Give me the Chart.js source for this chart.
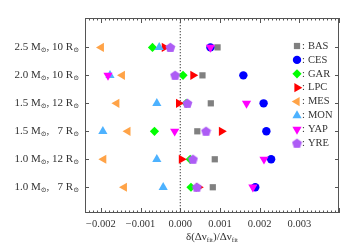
<!DOCTYPE html>
<html>
<head>
<meta charset="utf-8">
<script src="https://cdn.jsdelivr.net/npm/chart.js@4/dist/chart.umd.min.js"></script>
<style>html,body{margin:0;padding:0;background:#fff}</style>
</head>
<body>
<canvas id="chart" width="350" height="250"></canvas>
<script>
// models, top row first
var masses = ['2.5', '2.0', '1.5', '1.5', '1.0', '1.0'];
var radii = ['10', '10', '12', '7', '12', '7'];
var xTicks = [-0.002, -0.001, 0, 0.001, 0.002, 0.003];

var methods = ['BAS', 'CES', 'GAR', 'LPC', 'MES', 'MON', 'YAP', 'YRE'];
var bas = [0.00094, 0.00056, 0.00077, 0.00043, 0.00087, 0.00082];
var ces = [0.00076, 0.00159, 0.00210, 0.00217, 0.00229, 0.00189];
var gar = [-0.00070, 0.00007, 0.00015, -0.00065, 0.00025, 0.00027];
var lpc = [-0.00040, 0.00032, -0.00004, 0.00104, 0.00003, 0.00046];
var mes = [-0.00199, -0.00146, -0.00160, -0.00132, -0.00193, -0.00141];
var mon = [-0.00053, -0.00177, -0.00059, -0.00195, -0.00059, -0.00043];
var yap = [0.00076, -0.00182, 0.00167, -0.00014, 0.00211, 0.00183];
var yre = [-0.00025, -0.00013, 0.00018, 0.00065, 0.00032, 0.00042];
var series = [bas, ces, gar, lpc, mes, mon, yap, yre];

var colors = ['#808080', '#0000ff', '#00ff00', '#ff0000', '#ffa347', '#4db2ff', '#ff00ff', '#ad5cf5'];

// pentagon marker for YRE
var penta = document.createElement('canvas');
penta.width = 11; penta.height = 11;
(function() {
  var c = penta.getContext('2d');
  c.fillStyle = colors[7];
  c.beginPath();
  for (var k = 0; k < 5; k++) {
    var a = -Math.PI / 2 + k * 2 * Math.PI / 5;
    var px = 5.5 + 5.2 * Math.cos(a), py = 5.9 + 5.2 * Math.sin(a);
    if (k == 0) c.moveTo(px, py); else c.lineTo(px, py);
  }
  c.closePath();
  c.fill();
})();

var styles = ['rect', 'circle', 'rectRot', 'triangle', 'triangle', 'triangle', 'triangle', penta];
var rots = [0, 0, 0, 90, -90, 0, 180, 0];
var sizes = [4.4, 4.2, 4.6, 5.3, 5.3, 5.3, 5.3, 5];

var datasets = methods.map(function(m, i) {
  return {
    type: 'scatter',
    label: m,
    data: series[i].map(function(v, r) { return {x: v, y: 6 - r}; }),
    pointStyle: styles[i],
    rotation: rots[i],
    pointRadius: sizes[i],
    pointHoverRadius: sizes[i],
    backgroundColor: colors[i],
    borderColor: colors[i],
    borderWidth: 0,
    order: -i
  };
});

datasets.push({
  type: 'line',
  label: 'zero',
  data: [{x: 0, y: 0}, {x: 0, y: 8}],
  borderColor: '#000',
  borderWidth: 1,
  borderDash: [1, 2],
  pointRadius: 0,
  order: 10
});

var textColor = '#333';
var serif = '"Liberation Serif", "DejaVu Serif", serif';

function drawParts(ctx, parts, x, y, align) {
  // parts: [text, isSub]
  var w = 0;
  parts.forEach(function(p) {
    ctx.font = (p[1] ? '7px ' : '11px ') + serif;
    w += ctx.measureText(p[0]).width;
  });
  var cx = align == 'right' ? x - w : (align == 'center' ? x - w / 2 : x);
  ctx.textAlign = 'left';
  ctx.textBaseline = 'middle';
  parts.forEach(function(p) {
    ctx.font = (p[1] ? '7px ' : '11px ') + serif;
    ctx.fillText(p[0], cx, p[1] ? y + 3 : y);
    cx += ctx.measureText(p[0]).width;
  });
}

var framePlugin = {
  id: 'frame',
  afterDraw: function(chart) {
    var ctx = chart.ctx, a = chart.chartArea;
    var xs = chart.scales.x, ys = chart.scales.y;
    ctx.save();
    ctx.strokeStyle = '#555';
    ctx.lineWidth = 1;
    ctx.strokeRect(a.left + 0.5, a.top + 0.5, a.right - a.left - 1, a.bottom - a.top - 1);
    ctx.beginPath();
    for (var k = -24; k <= 40; k++) {
      var px = Math.round(xs.getPixelForValue(k / 10000)) + 0.5;
      var len = (k % 10 == 0) ? 5 : 2.5;
      ctx.moveTo(px, a.bottom); ctx.lineTo(px, a.bottom - len);
      ctx.moveTo(px, a.top); ctx.lineTo(px, a.top + len);
    }
    for (var r = 0; r < masses.length; r++) {
      var py = Math.round(ys.getPixelForValue(6 - r)) + 0.5;
      ctx.moveTo(a.left, py); ctx.lineTo(a.left + 4, py);
      ctx.moveTo(a.right, py); ctx.lineTo(a.right - 4, py);
    }
    ctx.stroke();

    // row labels
    ctx.fillStyle = textColor;
    for (var r = 0; r < masses.length; r++) {
      var y = ys.getPixelForValue(6 - r);
      var rad = radii[r].length < 2 ? '\u2007' + radii[r] : radii[r];
      drawParts(ctx, [[masses[r] + ' M', 0], ['\u2299', 1], [', ' + rad + ' R', 0], ['\u2299', 1]], 79, y, 'right');
    }

    // x axis title
    drawParts(ctx, [['\u03b4(\u0394\u03bd', 0], ['fit', 1], [')/\u0394\u03bd', 0], ['fit', 1]], (a.left + a.right) / 2, 237, 'center');

    // legend
    methods.forEach(function(m, i) {
      var y = 46 + i * 13.9;
      ctx.fillStyle = colors[i];
      Chart.helpers.drawPoint(ctx, {pointStyle: styles[i], rotation: rots[i], radius: sizes[i], borderWidth: 0}, 297, y);
      ctx.fillStyle = textColor;
      ctx.font = '10.5px ' + serif;
      ctx.textAlign = 'left';
      ctx.textBaseline = 'middle';
      ctx.fillText(':', 302, y);
      ctx.fillText(m, 308, y);
    });
    ctx.restore();
  }
};

new Chart(document.getElementById('chart'), {
  type: 'scatter',
  data: {datasets: datasets},
  options: {
    responsive: false,
    animation: false,
    layout: {padding: {left: 85, right: 11, top: 18, bottom: 0}},
    plugins: {legend: {display: false}, tooltip: {enabled: false}},
    scales: {
      x: {
        type: 'linear',
        min: -0.0024,
        max: 0.004,
        grid: {display: false, drawTicks: false},
        border: {display: false},
        afterBuildTicks: function(s) { s.ticks = xTicks.map(function(v) { return {value: v}; }); },
        afterFit: function(s) { s.height = 37; },
        ticks: {
          padding: 5,
          color: textColor,
          font: {family: serif, size: 10.5},
          callback: function(v) { return v.toFixed(3).replace('-', '\u2212'); }
        }
      },
      y: {
        type: 'linear',
        display: false,
        min: 0.08,
        max: 7.05
      }
    }
  },
  plugins: [framePlugin]
});
</script>
</body>
</html>
